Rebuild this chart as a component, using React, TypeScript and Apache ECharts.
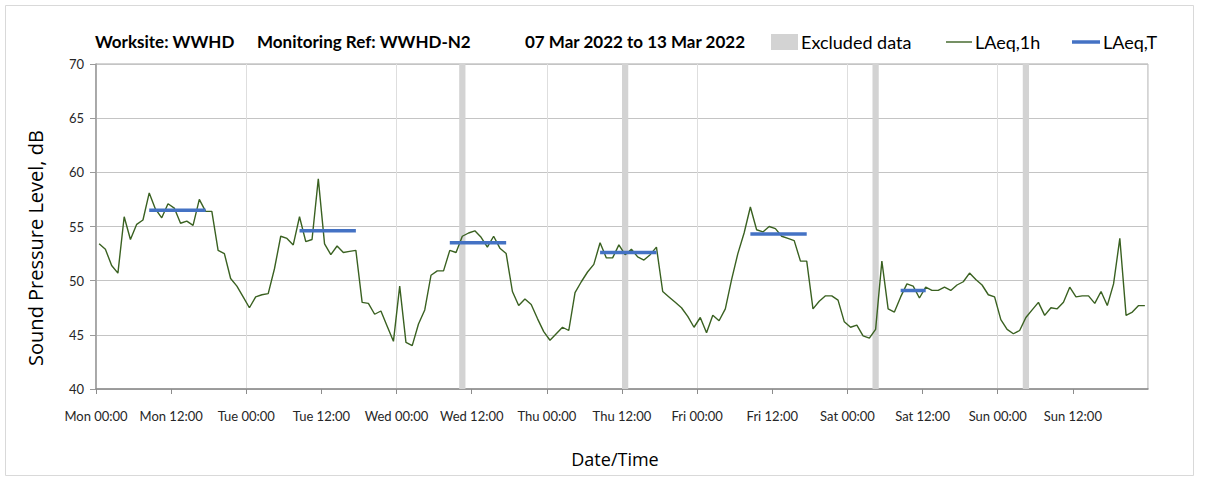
import React, { useEffect, useRef } from "react";
import * as echarts from "echarts";

// ---------- data ----------
const DAY_NAMES = ["Mon", "Tue", "Wed", "Thu", "Fri", "Sat", "Sun"];
const TITLE_SITE = "Worksite: WWHD";
const TITLE_REF = "Monitoring Ref: WWHD-N2";
const TITLE_DATES = "07 Mar 2022 to 13 Mar 2022";

// hourly LAeq,1h values (dB), one per hour, per day
const LAEQ_1H_MON = [53.4, 52.9, 51.4, 50.7, 55.9, 53.8, 55.2, 55.6, 58.1, 56.6, 55.8, 57.1, 56.7, 55.3, 55.5, 55.1, 57.5, 56.4, 56.4, 52.8, 52.5, 50.2, 49.5, 48.5];
const LAEQ_1H_TUE = [47.5, 48.5, 48.7, 48.8, 51.1, 54.1, 53.9, 53.3, 55.9, 53.6, 53.8, 59.4, 53.4, 52.4, 53.2, 52.6, 52.7, 52.8, 48.0, 47.9, 46.9, 47.2, 45.8, 44.4];
const LAEQ_1H_WED = [49.5, 44.3, 44.0, 46.0, 47.3, 50.5, 50.9, 50.9, 52.8, 52.6, 54.1, 54.4, 54.6, 54.0, 53.1, 54.1, 53.0, 52.5, 49.0, 47.7, 48.3, 47.8, 46.5, 45.3];
const LAEQ_1H_THU = [44.5, 45.1, 45.7, 45.4, 48.9, 49.9, 50.8, 51.5, 53.5, 52.1, 52.1, 53.3, 52.4, 52.9, 52.2, 51.9, 52.4, 53.1, 49.0, 48.5, 48.0, 47.5, 46.7, 45.7];
const LAEQ_1H_FRI = [46.6, 45.2, 46.8, 46.3, 47.4, 50.1, 52.5, 54.4, 56.8, 54.7, 54.5, 55.0, 54.8, 54.1, 53.9, 53.7, 51.8, 51.8, 47.4, 48.1, 48.6, 48.6, 48.2, 46.2];
const LAEQ_1H_SAT = [45.7, 45.9, 44.9, 44.7, 45.5, 51.8, 47.4, 47.1, 48.5, 49.7, 49.5, 48.4, 49.4, 49.1, 49.1, 49.4, 49.1, 49.6, 49.9, 50.7, 50.1, 49.6, 48.7, 48.5];
const LAEQ_1H_SUN = [46.4, 45.5, 45.1, 45.4, 46.6, 47.3, 48.0, 46.8, 47.5, 47.4, 48.0, 49.4, 48.5, 48.6, 48.6, 47.9, 49.0, 47.7, 49.7, 53.9, 46.8, 47.1, 47.7, 47.7];
const LAEQ_1H = [
  ...LAEQ_1H_MON, ...LAEQ_1H_TUE, ...LAEQ_1H_WED, ...LAEQ_1H_THU,
  ...LAEQ_1H_FRI, ...LAEQ_1H_SAT, ...LAEQ_1H_SUN,
];

// LAeq,T over daytime periods (day index, first hour, last hour, value dB)
const LAEQ_T_DAY = [0, 1, 2, 3, 4, 5];
const LAEQ_T_FROM = [8, 8, 8, 8, 8, 8];
const LAEQ_T_TO = [17, 17, 17, 17, 17, 12];
const LAEQ_T_VALUE = [56.5, 54.6, 53.5, 52.6, 54.3, 49.1];

// excluded hours (hour index from Mon 00:00), each one hour long
const EXCLUDED_HOURS = [58, 84, 124, 148];

const Y_MIN = 40;
const Y_MAX = 70;
const Y_STEP = 5;
const X_STEP_HOURS = 12;
const TOTAL_HOURS = 168;

// ---------- styles ----------
const FONT = "Lato, 'Open Sans', sans-serif";
const FONT_AXIS_NAME = "'Open Sans', Lato, sans-serif";
const GREEN = "#3a6121";
const BLUE = "#4472C4";
const GREY_EXCL = "#d3d3d3";

function fmtX(v: number): string {
  if (v >= TOTAL_HOURS) return "";
  const d = Math.floor(v / 24);
  const h = v % 24;
  return DAY_NAMES[d] + " " + (h < 10 ? "0" + h : String(h)) + ":00";
}

export default function App() {
  const ref = useRef<HTMLDivElement>(null);

  useEffect(() => {
    if (!ref.current) return;
    const chart = echarts.init(ref.current, null, { renderer: "svg" });

    const lineData = LAEQ_1H.map((v, i) => [i + 0.5, v]);
    const tSeries = LAEQ_T_DAY.map((d, k) => ({
      name: "LAeq,T",
      type: "line",
      xAxisIndex: 0,
      data: [
        [d * 24 + LAEQ_T_FROM[k] + 0.5, LAEQ_T_VALUE[k]],
        [d * 24 + LAEQ_T_TO[k] + 0.5, LAEQ_T_VALUE[k]],
      ],
      symbol: "none",
      lineStyle: { color: BLUE, width: 3.5 },
      z: 4,
      silent: true,
    }));

    const option: any = {
      animation: false,
      backgroundColor: "#ffffff",
      grid: {
        left: 96,
        right: 60,
        top: 64,
        bottom: 92,
        show: true,
        borderColor: "#a9a9a9",
        borderWidth: 1,
      },
      xAxis: [
        {
          type: "value",
          min: 0,
          max: TOTAL_HOURS,
          interval: X_STEP_HOURS,
          axisLine: { show: true, lineStyle: { color: "#8c8c8c", width: 1.5 } },
          axisTick: { show: true, length: 5, lineStyle: { color: "#8c8c8c" } },
          axisLabel: {
            formatter: fmtX,
            fontFamily: FONT,
            fontSize: 13,
            color: "#262626",
            margin: 20,
            showMaxLabel: false,
          },
          splitLine: { show: false },
        },
        {
          type: "value",
          min: 0,
          max: TOTAL_HOURS,
          interval: 24,
          position: "bottom",
          axisLine: { show: false },
          axisTick: { show: false },
          axisLabel: { show: false },
          splitLine: { show: true, lineStyle: { color: "#dedede", width: 1 } },
        },
      ],
      yAxis: {
        type: "value",
        min: Y_MIN,
        max: Y_MAX,
        interval: Y_STEP,
        axisLine: { show: true, lineStyle: { color: "#9a9a9a", width: 1.5 } },
        axisTick: { show: true, length: 6, lineStyle: { color: "#9a9a9a" } },
        axisLabel: {
          fontFamily: FONT,
          fontSize: 13,
          color: "#262626",
          margin: 12,
        },
        splitLine: { show: true, lineStyle: { color: "#c4c4c4", width: 1.2 } },
      },
      series: [
        {
          name: "Excluded data",
          type: "line",
          data: [],
          silent: true,
          z: 1,
          markArea: {
            silent: true,
            itemStyle: { color: GREY_EXCL },
            data: EXCLUDED_HOURS.map((h) => [{ xAxis: h }, { xAxis: h + 1 }]),
          },
        },
        {
          name: "LAeq,1h",
          type: "line",
          data: lineData,
          symbol: "none",
          lineStyle: { color: GREEN, width: 1.4 },
          z: 3,
          silent: true,
        },
        ...tSeries,
      ],
      graphic: [
        {
          type: "rect",
          shape: { x: 5.5, y: 5.5, width: 1188, height: 470 },
          style: { fill: "none", stroke: "#d9d9d9", lineWidth: 1 },
          silent: true,
        },
        {
          type: "text",
          x: 95,
          y: 41,
          style: { text: TITLE_SITE, font: `bold 17px ${FONT}`, fill: "#000", align: "left", verticalAlign: "middle" },
        },
        {
          type: "text",
          x: 257,
          y: 41,
          style: { text: TITLE_REF, font: `bold 17px ${FONT}`, fill: "#000", align: "left", verticalAlign: "middle" },
        },
        {
          type: "text",
          x: 525,
          y: 41,
          style: { text: TITLE_DATES, font: `bold 17px ${FONT}`, fill: "#000", align: "left", verticalAlign: "middle" },
        },
        {
          type: "rect",
          shape: { x: 771, y: 34, width: 27, height: 16 },
          style: { fill: GREY_EXCL },
        },
        {
          type: "text",
          x: 801,
          y: 42,
          style: { text: "Excluded data", font: `18px ${FONT}`, fill: "#000", align: "left", verticalAlign: "middle" },
        },
        {
          type: "line",
          shape: { x1: 946, y1: 42, x2: 972, y2: 42 },
          style: { stroke: GREEN, lineWidth: 1.4 },
        },
        {
          type: "text",
          x: 975,
          y: 42,
          style: { text: "LAeq,1h", font: `18px ${FONT}`, fill: "#000", align: "left", verticalAlign: "middle" },
        },
        {
          type: "line",
          shape: { x1: 1072, y1: 42, x2: 1100, y2: 42 },
          style: { stroke: BLUE, lineWidth: 3.5 },
        },
        {
          type: "text",
          x: 1103,
          y: 42,
          style: { text: "LAeq,T", font: `18px ${FONT}`, fill: "#000", align: "left", verticalAlign: "middle" },
        },
        {
          type: "text",
          x: 35,
          y: 248,
          rotation: Math.PI / 2,
          style: { text: "Sound Pressure Level, dB", font: `20px ${FONT_AXIS_NAME}`, fill: "#000", align: "center", verticalAlign: "middle" },
        },
        {
          type: "text",
          x: 615,
          y: 459,
          style: { text: "Date/Time", font: `18px ${FONT_AXIS_NAME}`, fill: "#000", align: "center", verticalAlign: "middle" },
        },
      ],
    };

    chart.setOption(option);
    return () => chart.dispose();
  }, []);

  return (
    <div
      ref={ref}
      style={{ position: "absolute", left: 0, top: 0, width: 1208, height: 481, background: "#fff" }}
    />
  );
}
